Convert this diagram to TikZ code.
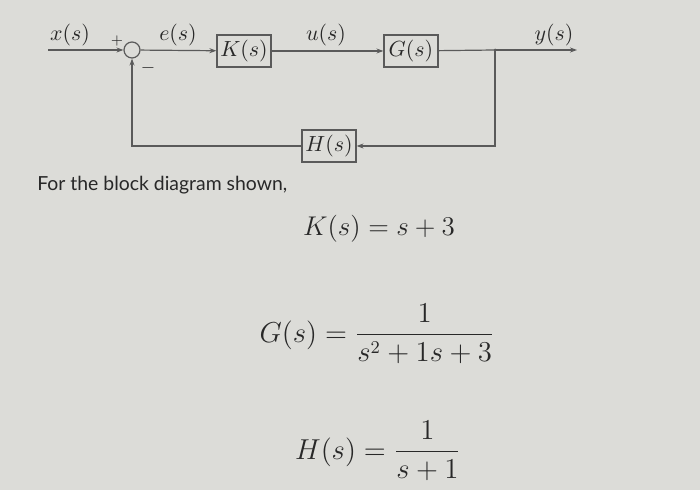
\documentclass[tikz,border=0pt]{standalone}
\usepackage{amsmath}
\usepackage{fontspec}
\newfontfamily\latofont{Lato}
\usetikzlibrary{arrows.meta,positioning}
\definecolor{bggray}{RGB}{220,220,216}
\definecolor{linegray}{RGB}{90,90,90}
\definecolor{textgray}{RGB}{40,40,40}
\tikzset{
  block/.style={draw=linegray,rectangle,minimum width=27pt,minimum height=16pt,inner sep=1pt,font=\fontsize{10.5}{12}\selectfont},
  sum/.style={draw=linegray,circle,minimum size=8pt,inner sep=0pt},
  sig/.style={font=\fontsize{10.5}{12}\selectfont},
  eqn/.style={font=\fontsize{13.5}{16}\selectfont}
}

\begin{document}
\begin{tikzpicture}[x=0.5pt,y=-0.5pt,line width=0.6pt,
>={Stealth[length=3.5pt,width=2.5pt]},
every node/.style={text=textgray}]
\fill[bggray] (0,0) rectangle (700,490);
\useasboundingbox (0,0) rectangle (700,490);
% loop
\coordinate (in) at (48,50);
\node[sum] (S) at (132,50) {};
\node[block] (K) at (244,51) {$K(s)$};
\node[block] (G) at (411,51) {$G(s)$};
\node[block] (H) at (329,146) {$H(s)$};
\coordinate (J) at (495,50);
\coordinate (out) at (577,50);
\fill[linegray] (J) circle (1.5);
\draw[linegray,->] (in)--(S);
\draw[linegray,->] (S)--(K);
\draw[linegray,->] (K)--(G);
\draw[linegray] (G)--(J);
\draw[linegray,->] (J)--(out);
\draw[linegray,->] (J)|-(H);
\draw[linegray,->] (H)-|(S);
% signals
\node[sig] (lx) at (70,35) {$x(s)$};
\node[sig] (le) at (178,35) {$e(s)$};
\node[sig] (lu) at (326,35) {$u(s)$};
\node[sig] (ly) at (554,35) {$y(s)$};
\node[font=\scriptsize] (plus) at (117,41) {$+$};
\node[font=\small] (minus) at (148,68) {$-$};
% text
\node[anchor=west,font=\latofont\fontsize{9.7}{11}\selectfont] (txt) at (30,185) {For the block diagram shown,};
\node[eqn,scale=0.94,transform shape] (eqK) at (379,229) {$K(s)=s+3$};
\node[eqn] (eqG) at (377,334) {$G(s)=\dfrac{1}{s^2+1s+3}$};
\node[eqn] (eqH) at (378,451) {$H(s)=\dfrac{1}{s+1}$};
\end{tikzpicture}
\end{document}
